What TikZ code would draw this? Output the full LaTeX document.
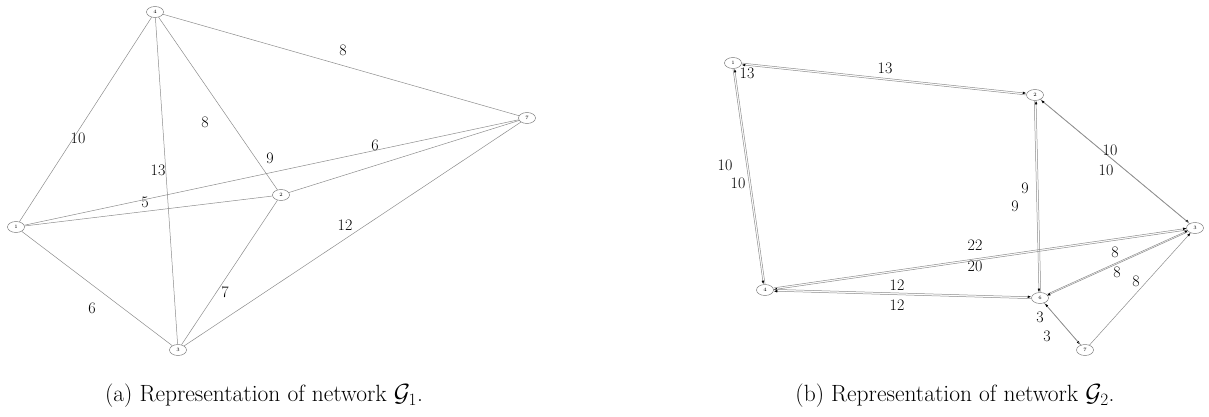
\documentclass[tikz,border=0pt]{standalone}
\usetikzlibrary{arrows.meta,shapes.geometric}
\begin{document}
\begin{tikzpicture}[x=1pt,y=-1pt,
  vtx/.style={ellipse,draw=black!50,line width=0.5pt,minimum width=17pt,minimum height=11pt,inner sep=0pt,font=\fontsize{5}{5}\selectfont},
  ed/.style={draw=black!45,line width=0.5pt},
  arr/.style={draw=black!45,line width=0.5pt,-{Latex[length=3.5pt,width=2.6pt,black]}},
  lab/.style={font=\fontsize{16}{16}\selectfont,inner sep=0pt},
  captext/.style={font=\fontsize{23.5}{28}\selectfont,inner sep=0pt}]
\useasboundingbox (0,0) rectangle (1209,417);
\newcommand{\dedge}[4]{%
  \draw[arr,transform canvas={shift={(-#3pt,#4pt)}}] (#1) -- (#2);
  \draw[arr,transform canvas={shift={(#3pt,-#4pt)}}] (#2) -- (#1);}
% ---------------- (a)
\node[vtx] (a4) at (155,12) {4};
\node[vtx] (a1) at (16,227) {1};
\node[vtx] (a2) at (281,195) {2};
\node[vtx] (a7) at (527,118) {7};
\node[vtx] (a3) at (178,350) {3};
\draw[ed] (a4) -- (a1);
\draw[ed] (a4) -- (a7);
\draw[ed] (a4) -- (a2);
\draw[ed] (a4) -- (a3);
\draw[ed] (a1) -- (a7);
\draw[ed] (a1) -- (a2);
\draw[ed] (a2) -- (a7);
\draw[ed] (a1) -- (a3);
\draw[ed] (a2) -- (a3);
\draw[ed] (a7) -- (a3);
\node[lab] (la1) at (78,138) {10};
\node[lab] (la2) at (343,50) {8};
\node[lab] (la3) at (205,122) {8};
\node[lab] (la4) at (158,170) {13};
\node[lab] (la5) at (270,158) {9};
\node[lab] (la6) at (145,202) {5};
\node[lab] (la7) at (375,145) {6};
\node[lab] (la8) at (92,308) {6};
\node[lab] (la9) at (225,292) {7};
\node[lab] (la10) at (345,225) {12};
\node[captext] (capa) at (264,396) {(a) Representation of network $\mathcal{G}_1$.};
% ---------------- (b)
\node[vtx] (b1) at (733,63) {1};
\node[vtx] (b2) at (1035,95) {2};
\node[vtx] (b3) at (1195,228) {3};
\node[vtx] (b4) at (765,290) {4};
\node[vtx] (b6) at (1040,298) {6};
\node[vtx] (b7) at (1085,350) {7};
\dedge{b1}{b2}{0.095}{0.895}
\dedge{b1}{b4}{0.891}{0.126}
\dedge{b2}{b6}{0.9}{0.022}
\dedge{b2}{b3}{0.575}{0.692}
\dedge{b4}{b3}{-0.128}{0.891}
\dedge{b4}{b6}{0.026}{0.9}
\dedge{b6}{b3}{-0.371}{0.821}
\dedge{b6}{b7}{0.68}{0.589}
\draw[arr] (b7) -- (b3);
\node[lab] (lb1) at (747,73) {13};
\node[lab] (lb2) at (885,68) {13};
\node[lab] (lb3) at (725,165) {10};
\node[lab] (lb4) at (738,183) {10};
\node[lab] (lb5) at (1025,188) {9};
\node[lab] (lb6) at (1015,206) {9};
\node[lab] (lb7) at (1110,150) {10};
\node[lab] (lb8) at (1106,170) {10};
\node[lab] (lb9) at (975,245) {22};
\node[lab] (lb10) at (975,266) {20};
\node[lab] (lb11) at (1115,252) {8};
\node[lab] (lb12) at (1117,272) {8};
\node[lab] (lb13) at (1136,281) {8};
\node[lab] (lb14) at (897,285) {12};
\node[lab] (lb15) at (897,305) {12};
\node[lab] (lb16) at (1040,317) {3};
\node[lab] (lb17) at (1047,336) {3};
\node[captext] (capb) at (955,396) {(b) Representation of network $\mathcal{G}_2$.};
\end{tikzpicture}
\end{document}
